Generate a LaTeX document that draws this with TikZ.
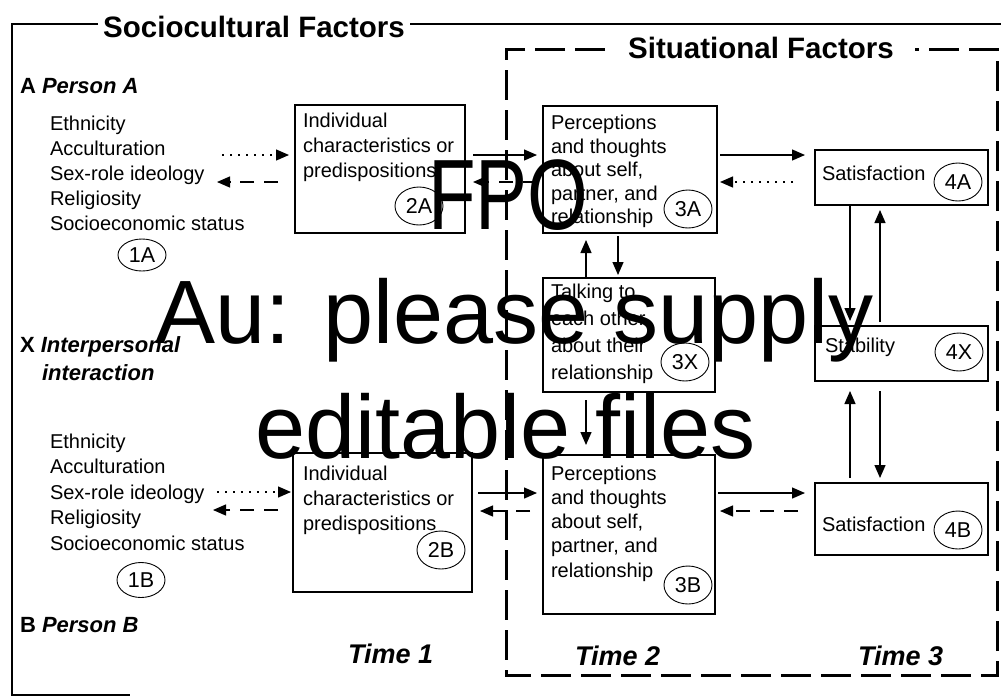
\documentclass[tikz,border=0pt]{standalone}
\usepackage{fontspec}
\setmainfont{Liberation Sans}
\usetikzlibrary{arrows.meta,shapes.geometric}
\begin{document}
\begin{tikzpicture}[x=1pt,y=-1pt,
  box/.style={draw,line width=1.1pt,anchor=north west,inner sep=0pt,outer sep=0pt},
  txt/.style={inner sep=0pt,outer sep=0pt,align=left,anchor=north west},
  one/.style={inner sep=0pt,outer sep=0pt,anchor=base west,font=\fontsize{20}{24}\selectfont},
  lab/.style={ellipse,draw,line width=0.9pt,minimum width=48pt,minimum height=38pt,inner sep=0pt,font=\fontsize{21.5}{24}\selectfont},
  head/.style={inner sep=0pt,outer sep=0pt,anchor=base west,font=\fontsize{22}{26}\selectfont\bfseries},
  timelab/.style={inner sep=0pt,anchor=base west,font=\fontsize{27}{30}\selectfont\bfseries\itshape},
  title/.style={inner sep=0pt,anchor=base west,font=\fontsize{29.5}{32}\selectfont\bfseries},
  fpo/.style={inner sep=0pt,anchor=base west,font=\fontsize{90}{96}\selectfont},
  solarr/.style={line width=1.3pt,-{Triangle[length=13pt,width=11pt]}},
  dasharr/.style={line width=1.3pt,dash pattern=on 14pt off 10pt,-{Triangle[length=13pt,width=11pt]}},
  dotarr/.style={line width=1.3pt,dash pattern=on 2pt off 6pt,-{Triangle[length=13pt,width=11pt]}},
  frame/.style={line width=2.2pt},
  sitframe/.style={line width=3pt,dash pattern=on 30pt off 10pt}
]
\useasboundingbox (0,0) rectangle (1001,697);

% titles and frames
\node[title] (tsoc) at (103,37) {Sociocultural Factors};
\node[title] (tsit) at (628,58) {Situational Factors};
\draw[frame] (98,24) -- (12,24) -- (12,695) -- (130,695);
\draw[frame] (410,24) -- (1001,24);
\draw[sitframe] (605,49) -- (506,49) -- (506,675) -- (997,675) -- (997,49) -- (915,49);

% left column
\node[head] (pA) at (20,93) {A \textit{Person A}};
\node[txt,font=\fontsize{20}{25}\selectfont] (listA) at (50,116.5) {Ethnicity\\Acculturation\\Sex-role ideology\\Religiosity\\Socioeconomic status};
\node[lab,minimum height=32pt] (e1A) at (142,255) {1A};
\node[head] (pX) at (20,352) {X \textit{Interpersonal}};
\node[head] (pX2) at (42,380) {\textit{interaction}};
\node[txt,font=\fontsize{20}{25.5}\selectfont] (listB) at (50,433.5) {Ethnicity\\Acculturation\\Sex-role ideology\\Religiosity\\Socioeconomic status};
\node[lab,minimum height=35pt] (e1B) at (141,580) {1B};
\node[head] (pB) at (20,632) {B \textit{Person B}};

% boxes
\node[box,minimum width=170pt,minimum height=128pt] (b2A) at (295,105) {};
\node[box,minimum width=179pt,minimum height=139pt] (b2B) at (293,453) {};
\node[box,minimum width=174pt,minimum height=127pt] (b3A) at (543,106) {};
\node[box,minimum width=172pt,minimum height=114pt] (b3X) at (543,278) {};
\node[box,minimum width=172pt,minimum height=159pt] (b3B) at (543,455) {};
\node[box,minimum width=173pt,minimum height=55pt] (b4A) at (815,150) {};
\node[box,minimum width=173pt,minimum height=55pt] (b4X) at (815,326) {};
\node[box,minimum width=173pt,minimum height=72pt] (b4B) at (815,483) {};

% box texts
\node[txt,font=\fontsize{20}{25}\selectfont] (t2A) at (303,113.5) {Individual\\characteristics or\\predispositions};
\node[txt,font=\fontsize{20}{25}\selectfont] (t2B) at (303,465.5) {Individual\\characteristics or\\predispositions};
\node[txt,font=\fontsize{20}{23.4}\selectfont] (t3A) at (551,115.5) {Perceptions\\and thoughts\\about self,\\partner, and\\relationship};
\node[txt,font=\fontsize{20}{27.3}\selectfont] (t3X) at (551,283.5) {Talking to\\each other\\about their\\relationship};
\node[txt,font=\fontsize{20}{24.3}\selectfont] (t3B) at (551,465.5) {Perceptions\\and thoughts\\about self,\\partner, and\\relationship};
\node[one] (t4A) at (822,180) {Satisfaction};
\node[one] (t4X) at (825,352) {Stability};
\node[one] (t4B) at (822,531) {Satisfaction};

% labels
\node[lab] (e2A) at (419,206) {2A};
\node[lab] (e2B) at (441,550) {2B};
\node[lab] (e3A) at (688,209) {3A};
\node[lab] (e3X) at (685,362) {3X};
\node[lab] (e3B) at (688,585) {3B};
\node[lab] (e4A) at (958,182) {4A};
\node[lab] (e4X) at (959,352) {4X};
\node[lab] (e4B) at (958,530) {4B};

% time labels
\node[timelab] (time1) at (348,663) {Time 1};
\node[timelab] (time2) at (575,665) {Time 2};
\node[timelab] (time3) at (858,665) {Time 3};

% helper coordinates
\coordinate (Y155) at (0,155);
\coordinate (Y182) at (0,182);
\coordinate (Y493) at (0,493);
\coordinate (Y511) at (0,511);
\coordinate (X586) at (586,0);
\coordinate (X618) at (618,0);
\coordinate (X850) at (850,0);
\coordinate (X880) at (880,0);
\coordinate (a1s) at (222,155);
\coordinate (a2e) at (217,182);
\coordinate (a12s) at (217,492);
\coordinate (a13e) at (213,510);

% arrows
\draw[dotarr,shorten >=6pt] (a1s) -- (b2A.west |- a1s);
\draw[dasharr,shorten <=17pt] (b2A.west |- a2e) -- (a2e);
\draw[solarr,shorten <=8pt,shorten >=6pt] (b2A.east |- Y155) -- (b3A.west |- Y155);
\draw[dasharr,shorten <=6pt,shorten >=8pt] (b3A.west |- Y182) -- (b2A.east |- Y182);
\draw[solarr,shorten <=3pt,shorten >=10pt] (b3A.east |- Y155) -- (b4A.west |- Y155);
\draw[dotarr,shorten <=22pt,shorten >=3pt] (b4A.west |- Y182) -- (b3A.east |- Y182);
\draw[solarr,shorten >=7pt] (b3X.north -| X586) -- (b3A.south -| X586);
\draw[solarr,shorten <=3pt,shorten >=3pt] (b3A.south -| X618) -- (b3X.north -| X618);
\draw[solarr,shorten <=8pt,shorten >=10pt] (b3X.south -| X586) -- (b3B.north -| X586);
\draw[solarr,shorten <=6pt,shorten >=6pt] (b2B.east |- Y493) -- (b3B.west |- Y493);
\draw[dasharr,shorten <=13pt,shorten >=8pt] (b3B.west |- Y511) -- (b2B.east |- Y511);
\draw[dotarr,shorten >=2pt] (a12s) -- (b2B.west |- a12s);
\draw[dasharr,shorten <=15pt] (b2B.west |- a13e) -- (a13e);
\draw[solarr,shorten <=3pt,shorten >=10pt] (b3B.east |- Y493) -- (b4B.west |- Y493);
\draw[dasharr,shorten <=17pt,shorten >=5pt] (b4B.west |- Y511) -- (b3B.east |- Y511);
\draw[solarr,shorten >=5pt] (b4A.south -| X850) -- (b4X.north -| X850);
\draw[solarr,shorten <=4pt,shorten >=5pt] (b4X.north -| X880) -- (b4A.south -| X880);
\draw[solarr,shorten <=5pt,shorten >=10pt] (b4B.north -| X850) -- (b4X.south -| X850);
\draw[solarr,shorten <=10pt,shorten >=5pt] (b4X.south -| X880) -- (b4B.north -| X880);

% FPO overlay
\node[fpo,font=\fontsize{100}{100}\selectfont] (fpo) at (428,229) {\scalebox{0.78}[1]{FPO}};
\node[fpo] (au) at (155,343) {Au: please supply};
\node[fpo] (edit) at (255,458) {editable files};
\end{tikzpicture}
\end{document}
